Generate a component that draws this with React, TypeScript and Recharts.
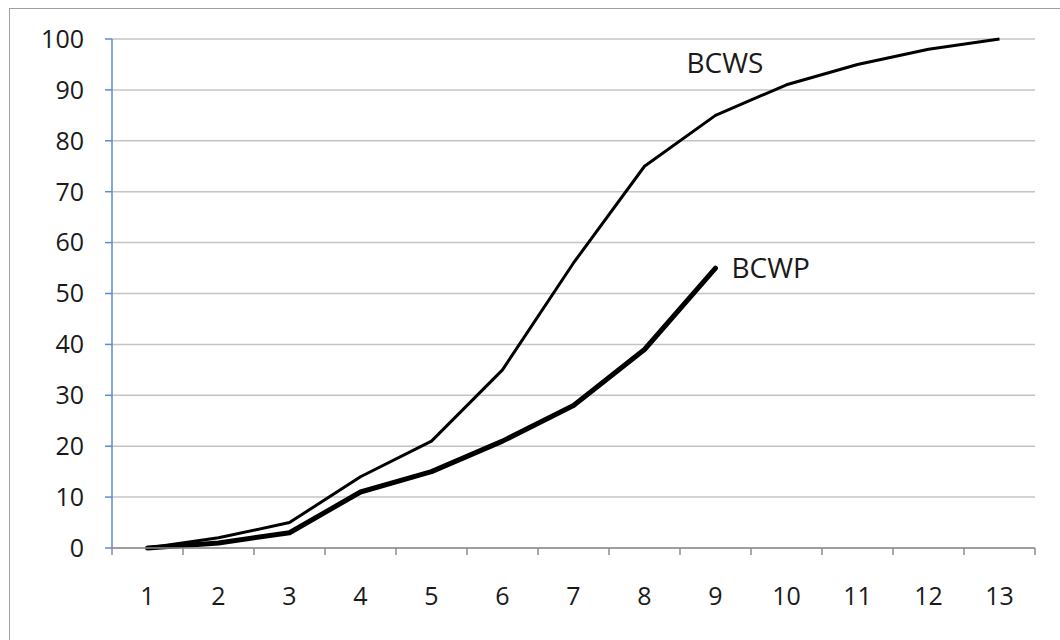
import React from 'react'
import { CartesianGrid, LabelList, Line, LineChart, XAxis, YAxis } from 'recharts'

const periods = ['1', '2', '3', '4', '5', '6', '7', '8', '9', '10', '11', '12', '13']
const bcws = [0, 2, 5, 14, 21, 35, 56, 75, 85, 91, 95, 98, 100]
const bcwp = [0, 1, 3, 11, 15, 21, 28, 39, 55]
const yTicks = [0, 10, 20, 30, 40, 50, 60, 70, 80, 90, 100]

const data = periods.map((p, i) => ({
  period: p,
  bcws: bcws[i],
  bcwp: i < bcwp.length ? bcwp[i] : null
}))

const font = '"Open Sans", "Noto Sans", sans-serif'
const textColor = '#1a1a1a'

// Excel-style category tick: marks sit between categories, label in the middle
function XTick(props: any) {
  const { x, y, payload, index } = props
  const off = payload.offset || 0
  const last = index === periods.length - 1
  return (
    <g>
      <line x1={x - off} y1={y} x2={x - off} y2={y + 7} stroke="#8c8c8c" strokeWidth={1.5} />
      {last && <line x1={x + off} y1={y} x2={x + off} y2={y + 7} stroke="#8c8c8c" strokeWidth={1.5} />}
      <text x={x} y={y + 57} textAnchor="middle" fontSize={25} fontFamily={font} fill={textColor}>
        {payload.value}
      </text>
    </g>
  )
}

function seriesLabel(text: string, at: number, dx: number, dy: number) {
  return (props: any) => {
    if (props.index !== at) return null
    return (
      <text x={props.x + dx} y={props.y + dy} fontSize={28} fontFamily={font} fill={textColor}>
        {text}
      </text>
    )
  }
}

export default function App() {
  return (
    <div style={{ position: 'absolute', left: 0, top: 0, width: 1060, height: 640, background: '#fff', overflow: 'hidden' }}>
      <div
        style={{
          position: 'absolute',
          left: 9,
          top: 8,
          width: 1060,
          height: 700,
          borderLeft: '1.5px solid #a0a0a0',
          borderTop: '1.5px solid #a0a0a0'
        }}
      />
      <div style={{ position: 'absolute', left: 0, top: 0 }}>
        <LineChart width={1060} height={640} data={data} margin={{ top: 39, right: 25, bottom: 0, left: 0 }}>
          <CartesianGrid vertical={false} stroke="#c4c4c4" strokeWidth={1.5} />
          <XAxis
            dataKey="period"
            scale="band"
            height={92}
            axisLine={{ stroke: '#8c8c8c', strokeWidth: 1.5 }}
            tickLine={false}
            tickSize={0}
            tickMargin={0}
            tick={<XTick />}
            interval={0}
          />
          <YAxis
            width={112}
            domain={[0, 100]}
            ticks={yTicks}
            interval={0}
            axisLine={{ stroke: '#5b8bd0', strokeWidth: 1.5 }}
            tickLine={{ stroke: '#5b8bd0', strokeWidth: 1.5 }}
            tickSize={7}
            tickMargin={21}
            tick={{ fontSize: 25, fontFamily: font, fill: textColor }}
          />
          <Line
            dataKey="bcws"
            stroke="#000"
            strokeWidth={3}
            dot={false}
            activeDot={false}
            isAnimationActive={false}
            strokeLinejoin="round"
          >
            <LabelList dataKey="bcws" content={seriesLabel('BCWS', 9, -100, -12)} />
          </Line>
          <Line
            dataKey="bcwp"
            stroke="#000"
            strokeWidth={5}
            dot={false}
            activeDot={false}
            isAnimationActive={false}
            strokeLinecap="round"
            strokeLinejoin="round"
            connectNulls={false}
          >
            <LabelList dataKey="bcwp" content={seriesLabel('BCWP', 8, 16, 10)} />
          </Line>
        </LineChart>
      </div>
    </div>
  )
}
